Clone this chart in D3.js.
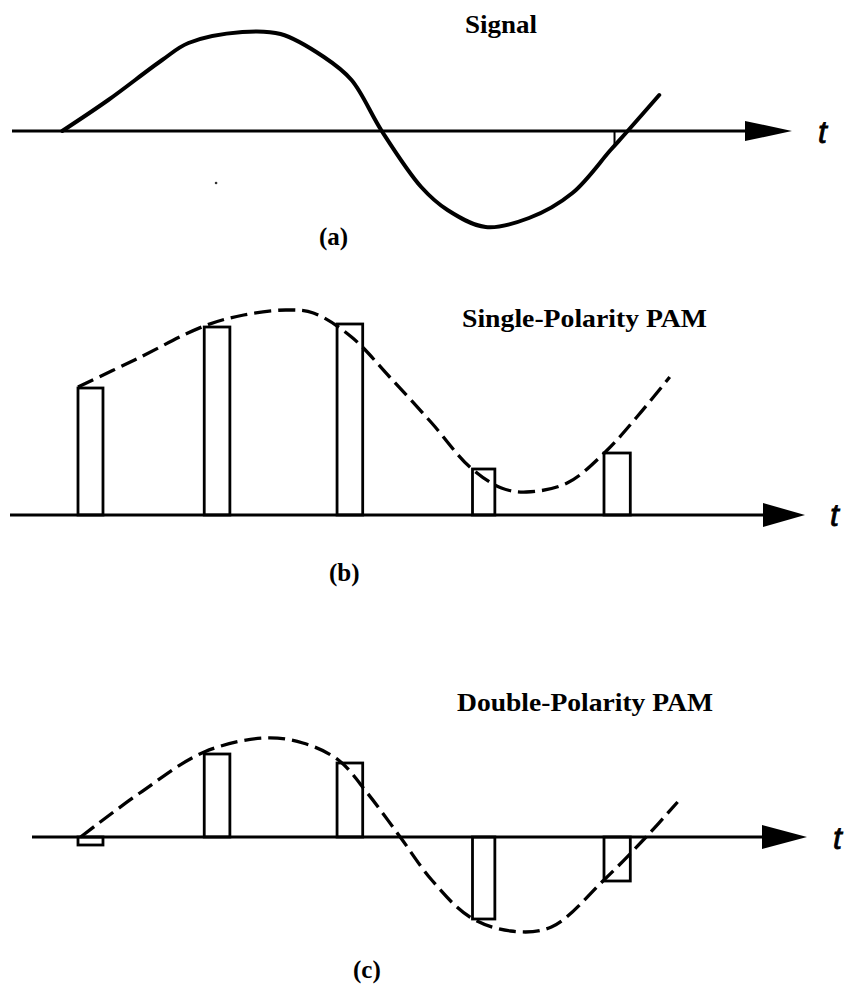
<!DOCTYPE html>
<html>
<head>
<meta charset="utf-8">
<script src="https://cdn.jsdelivr.net/npm/d3@7"></script>
<style>
  body { margin: 0; background: #fff; }
  svg { display: block; }
</style>
</head>
<body>
<svg id="chart"></svg>
<script>
// sample instants (left edge of each pulse) and pulse widths, in sample periods
var sampleT = [0, 0.96, 1.97, 3.0, 4.0];
var pulseW = [0.19, 0.195, 0.195, 0.17, 0.2];

// (a) the analog signal
var sigT = [-0.12, 0.23, 0.64, 0.84, 1.25, 1.54, 1.87, 2.08, 2.31, 2.61, 2.81, 3.10, 3.43, 3.76, 4.05, 4.18, 4.42];
var sigV = [0, 0.31, 0.71, 0.88, 0.99, 0.97, 0.74, 0.51, 0, -0.56, -0.79, -0.96, -0.87, -0.62, -0.19, 0, 0.36];

// (b) single polarity: shifted envelope + pulse heights
var uniT = [0, 0.43, 0.96, 1.26, 1.58, 1.79, 2.08, 2.37, 2.69, 2.98, 3.22, 3.41, 3.72, 4.01, 4.25, 4.50];
var uniV = [1.28, 1.55, 1.89, 2.0, 2.05, 2.02, 1.78, 1.38, 0.92, 0.48, 0.27, 0.23, 0.32, 0.63, 0.98, 1.38];
var uniPulse = [1.27, 1.88, 1.91, 0.46, 0.62];

// (c) double polarity
var bipT = [0.02, 0.47, 0.96, 1.42, 1.71, 1.98, 2.2, 2.45, 2.69, 2.98, 3.29, 3.6, 4.0, 4.32, 4.56];
var bipV = [0, 0.44, 0.85, 0.99, 0.94, 0.77, 0.44, 0, -0.43, -0.8, -0.94, -0.9, -0.43, 0, 0.35];
var bipPulse = [-0.08, 0.83, 0.74, -0.82, -0.44];

var titles = ["Signal", "Single-Polarity PAM", "Double-Polarity PAM"];
var tags = ["(a)", "(b)", "(c)"];

var svgWidth = 847, svgHeight = 986;

var svg = d3.select("#chart")
    .attr("width", svgWidth)
    .attr("height", svgHeight)
    .style("background", "#fff");

var x = d3.scaleLinear()
    .domain([0, 4])
    .range([78, 604]);

// layout of the three panels (pixels)
var panels = [
  {base: 131, x0: 12, tip: 792, head: 47, half: 10, tx: 818, ty: 143,
   title: [465, 33, 72], tag: [319, 245]},
  {base: 515, x0: 10, tip: 805, head: 42, half: 12, tx: 830, ty: 526,
   title: [462, 327, 245], tag: [329, 581]},
  {base: 837, x0: 32, tip: 807, head: 45, half: 12, tx: 833, ty: 849,
   title: [457, 711, 256], tag: [353, 978]}
];

panels.forEach(function(p, i) {
  p.y = d3.scaleLinear().domain([-1, 1]).range([p.base + 100, p.base - 100]);
  var g = svg.append("g");

  // time axis with arrow head
  g.append("line")
    .attr("x1", p.x0).attr("x2", p.tip - p.head + 4)
    .attr("y1", p.y(0)).attr("y2", p.y(0))
    .attr("stroke", "#000").attr("stroke-width", 3);
  g.append("path")
    .attr("d", "M" + p.tip + "," + p.y(0) +
               "L" + (p.tip - p.head) + "," + (p.y(0) - p.half) +
               "L" + (p.tip - p.head) + "," + (p.y(0) + p.half) + "Z")
    .attr("fill", "#000");
  g.append("text")
    .attr("x", p.tx).attr("y", p.ty)
    .style("font-family", "'Liberation Sans', Arial, sans-serif")
    .style("font-style", "italic")
    .style("font-size", "32px")
    .attr("stroke", "#000")
    .attr("stroke-width", 0.8)
    .text("t");

  g.append("text")
    .attr("x", p.title[0]).attr("y", p.title[1])
    .attr("textLength", p.title[2])
    .attr("lengthAdjust", "spacingAndGlyphs")
    .style("font-family", "'Liberation Serif', 'Times New Roman', serif")
    .style("font-weight", "bold")
    .style("font-size", "25px")
    .text(titles[i]);

  g.append("text")
    .attr("x", p.tag[0]).attr("y", p.tag[1])
    .style("font-family", "'Liberation Serif', 'Times New Roman', serif")
    .style("font-weight", "bold")
    .style("font-size", "25px")
    .text(tags[i]);
});

function curve(ts, vs, yS) {
  return d3.line()
    .x(function(d, i) { return x(ts[i]); })
    .y(function(d) { return yS(d); })
    .curve(d3.curveCatmullRom.alpha(0.5))(vs);
}

function pulses(g, vals, yS) {
  g.selectAll("rect.pulse")
    .data(vals)
    .enter()
    .append("rect")
      .attr("class", "pulse")
      .attr("x", function(d, i) { return x(sampleT[i]); })
      .attr("width", function(d, i) { return x(sampleT[i] + pulseW[i]) - x(sampleT[i]); })
      .attr("y", function(d) { return Math.min(yS(d), yS(0)); })
      .attr("height", function(d) { return Math.abs(yS(d) - yS(0)); })
      .attr("fill", "none")
      .attr("stroke", "#000")
      .attr("stroke-width", 2.8);
}

// (a) solid signal
var pa = panels[0];
svg.append("path")
  .attr("d", curve(sigT, sigV, pa.y))
  .attr("fill", "none")
  .attr("stroke", "#000")
  .attr("stroke-width", 4)
  .attr("stroke-linecap", "round");
// little leftover tick and speck from the scan
svg.append("line")
  .attr("x1", x(4.08)).attr("x2", x(4.08))
  .attr("y1", pa.y(0)).attr("y2", pa.y(-0.16))
  .attr("stroke", "#000").attr("stroke-width", 2);
svg.append("circle")
  .attr("cx", x(1.05)).attr("cy", pa.y(-0.52))
  .attr("r", 1.3).attr("fill", "#333");

// (b) single polarity
var pb = panels[1];
var gb = svg.append("g");
pulses(gb, uniPulse, pb.y);
gb.append("path")
  .attr("d", curve(uniT, uniV, pb.y))
  .attr("fill", "none")
  .attr("stroke", "#000")
  .attr("stroke-width", 3.3)
  .attr("stroke-dasharray", "17,7");

// (c) double polarity
var pc = panels[2];
var gc = svg.append("g");
pulses(gc, bipPulse, pc.y);
gc.append("path")
  .attr("d", curve(bipT, bipV, pc.y))
  .attr("fill", "none")
  .attr("stroke", "#000")
  .attr("stroke-width", 3.3)
  .attr("stroke-dasharray", "17,7");
</script>
</body>
</html>
